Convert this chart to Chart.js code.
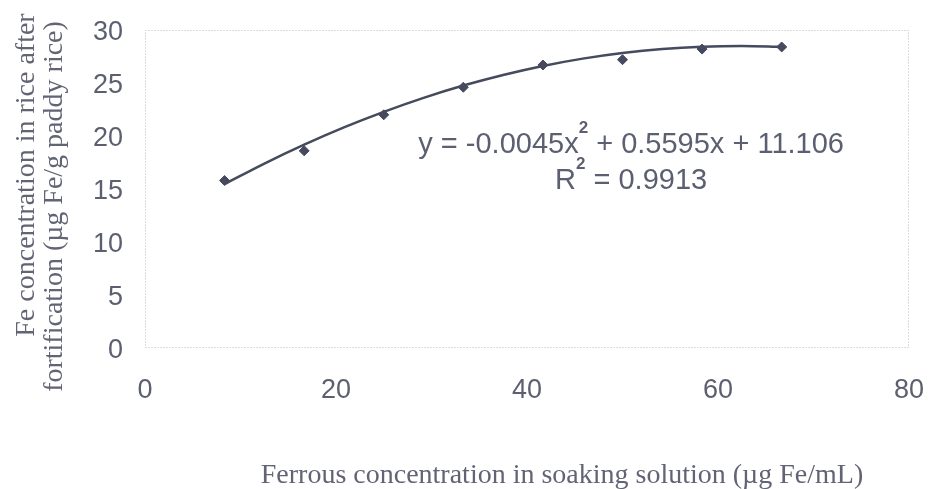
<!DOCTYPE html>
<html><head><meta charset="utf-8">
<script src="https://cdn.jsdelivr.net/npm/chart.js@4"></script>
<style>html,body{margin:0;padding:0;background:#fff}#wrap{width:929px;height:489px}</style>
</head><body><div id="wrap"><canvas id="c" width="929" height="489"></canvas></div>
<script>
// ---- data ----
const soakingConc = [8.33, 16.67, 25, 33.33, 41.67, 50, 58.33, 66.67];
const ironInRice = [15.8, 18.6, 22.0, 24.6, 26.7, 27.2, 28.2, 28.4];
const trendX = [8.33, 12.5, 16.67, 20.83, 25, 29.17, 33.33, 37.5, 41.67, 45.83, 50, 54.17, 58.33, 62.5, 66.67];
const trendY = [15.46, 17.40, 19.18, 20.81, 22.28, 23.60, 24.76, 25.76, 26.61, 27.30, 27.83, 28.21, 28.43, 28.50, 28.41];
const xTicks = [0, 20, 40, 60, 80];
const yTicks = [0, 5, 10, 15, 20, 25, 30];
const xTitle = 'Ferrous concentration in soaking solution (\u00b5g Fe/mL)';
const yTitle = ['Fe concentration in rice after', 'fortification (\u00b5g Fe/g paddy rice)'];
const eqLine1 = ['y = -0.0045x', '2', ' + 0.5595x + 11.106'];
const eqLine2 = ['R', '2', ' = 0.9913'];

const txtColor = '#5c5f70';
const markColor = '#454a5e';

const borderPlugin = {
  id: 'plotBorder',
  beforeDatasetsDraw(chart) {
    const {ctx, chartArea: a} = chart;
    ctx.save();
    ctx.strokeStyle = '#b8b8c0';
    ctx.lineWidth = 1;
    ctx.setLineDash([1, 2]);
    ctx.strokeRect(a.left + 0.5, a.top + 0.5, a.right - a.left - 1, a.bottom - a.top - 1);
    ctx.restore();
  }
};

function drawSupLine(ctx, parts, cx, cy) {
  const mainFont = '29px "Liberation Sans", Arial, sans-serif';
  const supFont = 'bold 17px "Liberation Sans", Arial, sans-serif';
  ctx.font = mainFont; const w0 = ctx.measureText(parts[0]).width; const w2 = ctx.measureText(parts[2]).width;
  ctx.font = supFont; const w1 = ctx.measureText(parts[1]).width;
  let x = cx - (w0 + w1 + w2) / 2;
  ctx.textAlign = 'left'; ctx.textBaseline = 'alphabetic';
  ctx.font = mainFont; ctx.fillText(parts[0], x, cy + 10); x += w0;
  ctx.font = supFont; ctx.fillText(parts[1], x, cy - 10); x += w1;
  ctx.font = mainFont; ctx.fillText(parts[2], x, cy + 10);
}

const eqPlugin = {
  id: 'equation',
  afterDatasetsDraw(chart) {
    const {ctx, scales} = chart;
    ctx.save();
    ctx.fillStyle = txtColor;
    const cx = scales.x.getPixelForValue(50.9);
    drawSupLine(ctx, eqLine1, cx, scales.y.getPixelForValue(19.35));
    drawSupLine(ctx, eqLine2, cx, scales.y.getPixelForValue(15.9));
    ctx.restore();
  }
};

const sp = n => ' '.repeat(n);

new Chart(document.getElementById('c'), {
  type: 'scatter',
  data: {
    datasets: [
      {
        label: 'Trend',
        type: 'line',
        data: trendX.map((x, i) => ({x, y: trendY[i]})),
        borderColor: markColor,
        borderWidth: 2.5,
        pointRadius: 0,
        tension: 0.4,
        cubicInterpolationMode: 'monotone',
        fill: false,
        order: 2
      },
      {
        label: 'Fe',
        data: soakingConc.map((x, i) => ({x, y: ironInRice[i]})),
        pointStyle: 'rectRot',
        pointRadius: 5,
        backgroundColor: markColor,
        borderColor: markColor,
        borderWidth: 1,
        showLine: false,
        order: 1
      }
    ]
  },
  options: {
    responsive: false,
    animation: false,
    devicePixelRatio: 1,
    layout: {padding: {top: 30, right: 20, left: 0, bottom: 0}},
    plugins: {legend: {display: false}, tooltip: {enabled: false}},
    scales: {
      x: {
        type: 'linear', min: 0, max: 80,
        afterBuildTicks: s => { s.ticks = xTicks.map(v => ({value: v})); },
        afterFit: s => { s.height = 141; s.paddingLeft = 0; s.paddingRight = 0; },
        grid: {display: false},
        border: {display: false},
        ticks: {color: txtColor, padding: 18, font: {family: '"Liberation Sans", Arial, sans-serif', size: 27}, maxRotation: 0},
        title: {display: true, text: sp(10) + xTitle, color: '#626475', padding: {top: 0, bottom: -3},
          font: {family: '"Liberation Serif", "Times New Roman", serif', size: 28}}
      },
      y: {
        min: 0, max: 30,
        afterBuildTicks: s => { s.ticks = yTicks.map(v => ({value: v})); },
        afterFit: s => { s.width = 145; s.paddingTop = 0; s.paddingBottom = 0; },
        grid: {display: false},
        border: {display: false},
        ticks: {color: txtColor, padding: 14, labelOffset: 3, font: {family: '"Liberation Sans", Arial, sans-serif', size: 27}},
        title: {display: true, text: [sp(4) + yTitle[0], yTitle[1] + sp(5)], color: '#626475', padding: {top: 13, bottom: 0},
          font: {family: '"Liberation Serif", "Times New Roman", serif', size: 28, lineHeight: 1.0}}
      }
    }
  },
  plugins: [borderPlugin, eqPlugin]
});
</script>
</body></html>
